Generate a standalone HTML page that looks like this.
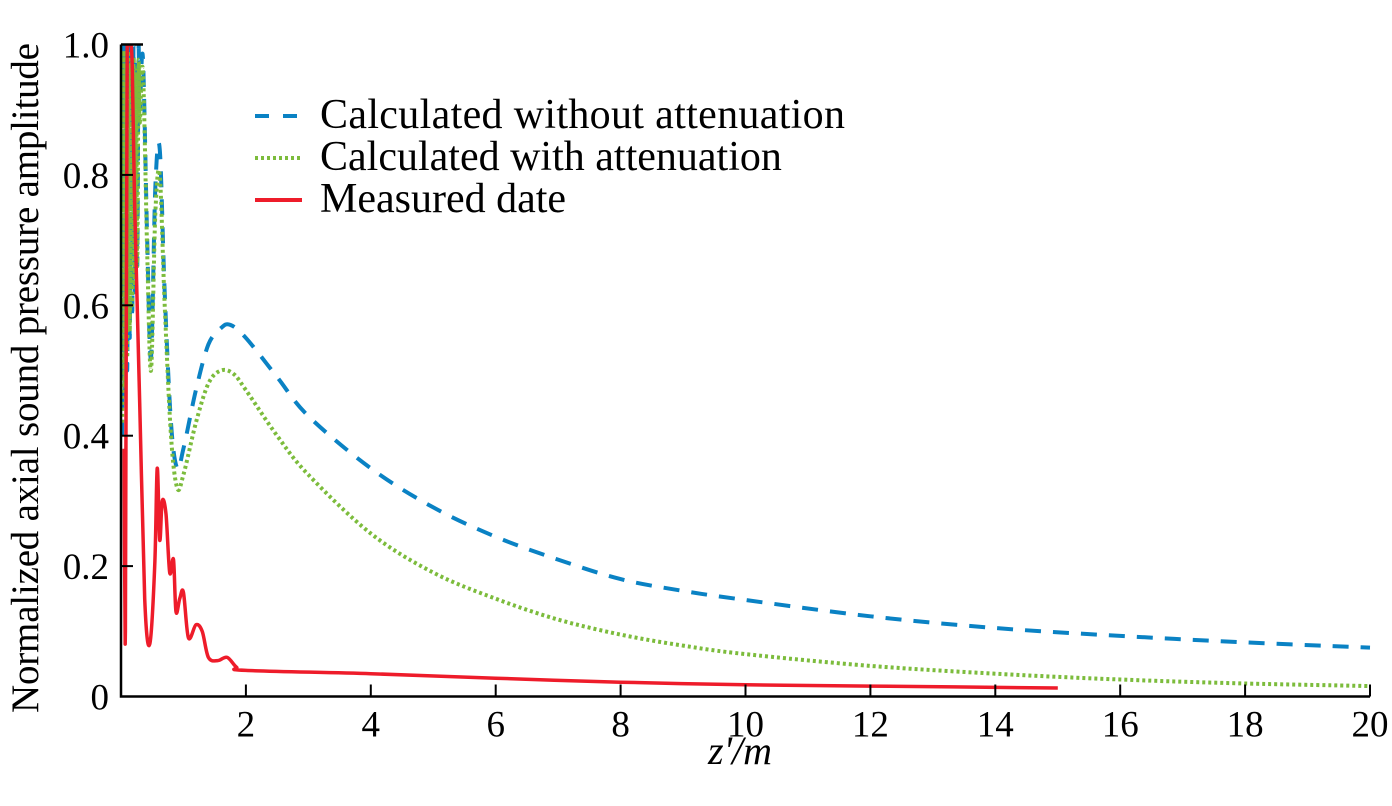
<!DOCTYPE html>
<html><head><meta charset="utf-8"><style>
html,body{margin:0;padding:0;background:#fff;}
svg{display:block;font-family:"Liberation Serif",serif;}
</style></head><body>
<svg id="chart" width="1392" height="806" viewBox="0 0 1392 806" xmlns="http://www.w3.org/2000/svg">
<defs><clipPath id="clip"><rect x="121" y="44" width="1260" height="654"/></clipPath></defs>
<g id="plot" clip-path="url(#clip)"></g>
<g id="axes"></g>
<g>
  <line x1="255" y1="116" x2="302" y2="116" stroke="#0a82c4" stroke-width="4" stroke-dasharray="14,14"/>
  <text x="320" y="128" font-size="42" textLength="525">Calculated without attenuation</text>
  <line x1="255" y1="158" x2="302" y2="158" stroke="#7cbc3c" stroke-width="4" stroke-dasharray="3,3"/>
  <text x="320" y="170" font-size="42">Calculated with attenuation</text>
  <line x1="255" y1="200" x2="302" y2="200" stroke="#ee1c2a" stroke-width="4"/>
  <text x="320" y="212" font-size="42">Measured date</text>
</g>
<text transform="translate(38,378) rotate(-90)" text-anchor="middle" font-size="39" textLength="670">Normalized axial sound pressure amplitude</text>
<text x="740" y="764" text-anchor="middle" font-size="40" font-style="italic">z'/m</text>
</svg>
<script>
const xTicks=[2,4,6,8,10,12,14,16,18,20];
const yTicks=[0,0.2,0.4,0.6,0.8,1.0];
const yTickLabels=["0","0.2","0.4","0.6","0.8","1.0"];
const noAttenX=[0.02,0.04,0.06,0.08,0.10,0.12,0.14,0.16,0.18,0.20,0.22,0.24,0.26,0.28,0.30,0.35,0.42,0.48,0.55,0.62,0.7,0.8,0.9,1.0,1.2,1.4,1.6,1.75,2.0,2.5,3,4,5,6,7,8,9,10,12,14,16,18,20];
const noAttenY=[0.40,1.0,0.45,0.98,0.50,1.0,0.55,0.98,0.58,1.0,0.62,0.98,0.66,0.99,0.90,0.98,0.70,0.52,0.78,0.84,0.62,0.42,0.35,0.38,0.47,0.54,0.565,0.57,0.55,0.49,0.43,0.35,0.29,0.245,0.21,0.18,0.162,0.148,0.123,0.105,0.093,0.083,0.075];
const attenX=[0.02,0.04,0.06,0.08,0.10,0.12,0.14,0.16,0.18,0.20,0.22,0.24,0.26,0.28,0.30,0.35,0.42,0.48,0.55,0.62,0.7,0.8,0.9,1.0,1.2,1.4,1.6,1.8,2.0,2.5,3,4,5,6,7,8,9,10,12,14,16,18,20];
const attenY=[0.42,0.99,0.47,0.97,0.52,0.99,0.56,0.97,0.60,0.98,0.63,0.96,0.66,0.97,0.88,0.96,0.68,0.50,0.74,0.80,0.60,0.40,0.32,0.34,0.42,0.48,0.50,0.495,0.47,0.40,0.34,0.25,0.19,0.15,0.118,0.095,0.078,0.065,0.047,0.035,0.026,0.02,0.016];
const measX=[0.05,0.07,0.10,0.14,0.18,0.22,0.30,0.38,0.46,0.54,0.58,0.62,0.66,0.72,0.78,0.84,0.88,0.94,1.0,1.08,1.2,1.3,1.4,1.55,1.7,1.85,2.0,4,6,8,10,12,15];
const measY=[0.38,0.10,1.0,1.0,0.97,0.75,0.45,0.15,0.08,0.20,0.35,0.24,0.30,0.28,0.19,0.21,0.13,0.15,0.16,0.09,0.11,0.10,0.06,0.055,0.06,0.045,0.04,0.035,0.028,0.022,0.018,0.016,0.013];

const X0=121,X1=1370,Y0=696.5,Y1=44.5;
const xs=v=>X0+(X1-X0)*v/20;
const ys=v=>Y0-(Y0-Y1)*v/1.0;
const NS="http://www.w3.org/2000/svg";
function mk(t,a,p){const e=document.createElementNS(NS,t);for(const k in a)e.setAttribute(k,a[k]);p.appendChild(e);return e;}
function smooth(X,Y){const p=X.map((x,i)=>[xs(x),ys(Y[i])]);let d="M"+p[0][0].toFixed(1)+","+p[0][1].toFixed(1);
 for(let i=0;i<p.length-1;i++){const a=p[i-1]||p[i],b=p[i],c=p[i+1],e=p[i+2]||c;
 const c1=[b[0]+(c[0]-a[0])/6,b[1]+(c[1]-a[1])/6],c2=[c[0]-(e[0]-b[0])/6,c[1]-(e[1]-b[1])/6];
 d+=" C"+c1.map(v=>v.toFixed(1))+" "+c2.map(v=>v.toFixed(1))+" "+c[0].toFixed(1)+","+c[1].toFixed(1);}return d;}
const plot=document.getElementById('plot');
let e;
e=mk('path',{d:smooth(noAttenX,noAttenY),fill:'none',stroke:'#0a82c4','stroke-width':4,'stroke-dasharray':'16,12'},plot);


e=mk('path',{d:smooth(attenX,attenY),fill:'none',stroke:'#7cbc3c','stroke-width':4,'stroke-dasharray':'3,3'},plot);


e=mk('path',{d:smooth(measX,measY),fill:'none',stroke:'#ee1c2a','stroke-width':3.5,'stroke-linejoin':'round'},plot);


const ax=document.getElementById('axes');
e=mk('path',{d:`M${X0},${Y1} V${Y0} H${X1}`,fill:'none',stroke:'#000','stroke-width':2.5},ax);


xTicks.forEach(t=>{
 e=mk('line',{x1:xs(t),x2:xs(t),y1:Y0,y2:Y0-12,stroke:'#000','stroke-width':2},ax);
 
 
 e=mk('text',{x:xs(t),y:Y0+40,'text-anchor':'middle','font-size':37},ax);e.textContent=t;
 
 
});
yTicks.forEach((t,i)=>{
 if(t>0&&t<1){e=mk('line',{x1:X0,x2:X0+12,y1:ys(t),y2:ys(t),stroke:'#000','stroke-width':2},ax);
 
 }
 e=mk('text',{x:109,y:ys(t)+13,'text-anchor':'end','font-size':37},ax);e.textContent=yTickLabels[i];
 
 
});
e=mk('line',{x1:X0,x2:X0+22,y1:Y1,y2:Y1,stroke:'#000','stroke-width':2.5},ax);


</script>
</body></html>
